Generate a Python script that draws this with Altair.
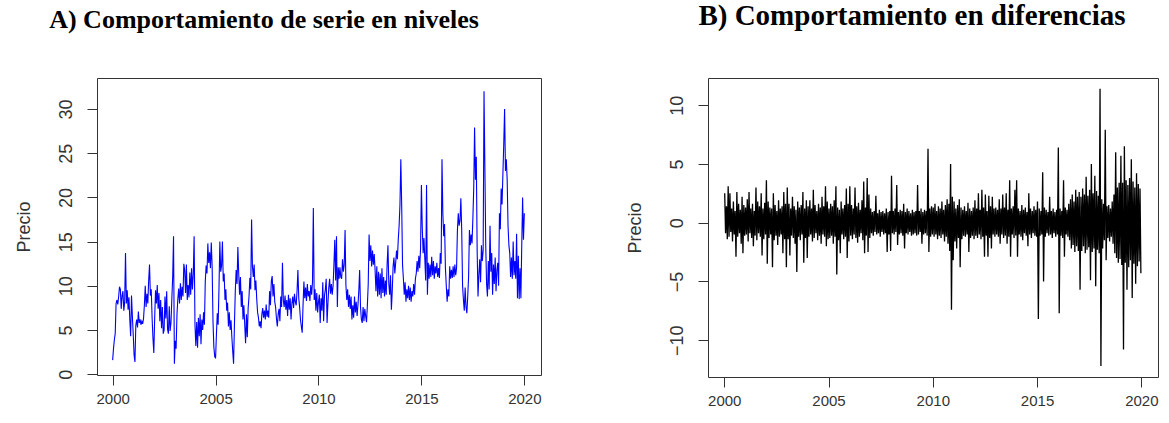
import altair as alt
import pandas as pd

# ---- Serie en niveles: precio cada quincena (24 valores por año) ----
niveles_2000_2004 = [
    1.6, 2.9, 3.9, 4.6, 8.0, 8.4, 7.9, 8.8, 9.9, 9.6, 7.4, 8.9, 9.4, 7.2, 8.1, 13.7, 8.0, 9.5, 7.3, 8.7, 6.2, 4.3, 8.9, 6.6,
    4.5, 2.2, 1.4, 5.5, 6.2, 5.3, 7.1, 5.8, 6.2, 5.6, 6.0, 5.7, 6.3, 7.8, 10.0, 7.6, 9.1, 8.0, 10.6, 12.4, 8.9, 9.6, 6.4, 4.1,
    2.4, 6.3, 9.5, 8.0, 10.1, 7.4, 9.2, 6.0, 8.4, 5.2, 7.6, 4.6, 5.0, 8.8, 6.3, 9.4, 5.1, 4.6, 7.7, 4.9, 5.8, 8.5, 11.0, 15.6,
    1.2, 3.8, 2.9, 6.8, 8.5, 9.7, 8.0, 10.3, 8.4, 9.9, 8.8, 12.5, 11.8, 9.2, 12.4, 8.4, 10.1, 8.7, 11.5, 9.0, 12.0, 9.6, 11.3, 15.6,
    5.6, 3.2, 5.9, 3.0, 6.4, 4.3, 6.8, 3.4, 6.2, 5.0, 7.0, 5.6, 10.5, 12.3, 11.4, 14.8, 12.6, 13.8, 12.0, 14.9, 12.2, 6.0, 3.1, 2.0,
]
niveles_2005_2009 = [
    1.8, 4.5, 6.9, 5.6, 9.8, 15.0, 11.6, 12.3, 15.0, 10.5, 11.4, 8.4, 9.6, 7.2, 8.1, 5.4, 7.0, 5.0, 6.1, 4.2, 2.6, 1.2, 5.6, 9.4,
    11.8, 10.2, 14.4, 11.4, 9.0, 11.0, 7.6, 9.4, 6.2, 7.8, 5.6, 3.5, 6.8, 4.2, 7.5, 8.8, 10.9, 9.6, 17.5, 12.2, 11.0, 12.4, 9.5, 10.6,
    8.5, 7.0, 6.4, 5.4, 6.0, 5.2, 6.8, 7.5, 6.4, 7.2, 6.2, 7.9, 6.5, 7.2, 6.4, 9.4, 7.8, 10.5, 11.1, 8.8, 10.2, 8.2, 7.6, 6.3,
    5.4, 6.8, 7.4, 6.0, 8.8, 7.6, 12.6, 8.4, 7.6, 8.9, 7.3, 8.4, 6.6, 9.0, 7.3, 8.6, 6.2, 8.0, 8.8, 7.5, 9.1, 8.2, 7.8, 9.4,
    11.8, 8.6, 7.6, 6.2, 5.4, 4.7, 7.8, 10.5, 8.6, 9.8, 8.3, 10.2, 8.8, 9.4, 8.3, 10.1, 9.0, 10.4, 18.8, 8.4, 9.6, 7.2, 9.2, 7.0,
]
niveles_2010_2014 = [
    8.2, 9.0, 5.8, 8.6, 7.2, 10.4, 6.0, 8.9, 9.6, 10.8, 5.8, 8.0, 9.8, 10.8, 9.1, 10.2, 9.0, 10.0, 12.4, 15.2, 10.6, 15.6, 7.6, 12.1,
    10.8, 12.1, 11.0, 10.8, 13.0, 11.6, 12.4, 16.3, 10.0, 8.4, 9.6, 7.6, 9.0, 7.4, 8.8, 6.2, 7.8, 6.4, 8.8, 7.0, 8.2, 6.6, 7.8, 9.4,
    11.8, 7.6, 6.2, 5.8, 7.6, 6.0, 7.4, 6.6, 5.9, 7.8, 10.2, 15.8, 12.8, 14.6, 12.2, 14.0, 12.4, 13.6, 11.8, 9.4, 12.2, 8.8, 11.6, 9.0,
    11.4, 8.6, 12.0, 9.2, 11.0, 8.8, 10.6, 9.0, 12.4, 14.6, 10.2, 9.0, 11.2, 7.3, 9.4, 12.2, 13.2, 11.4, 12.6, 14.0, 13.0, 15.2, 16.8, 19.2,
    24.3, 19.2, 12.4, 10.8, 9.0, 10.4, 8.2, 9.6, 8.6, 10.0, 8.4, 9.8, 8.2, 9.4, 8.8, 10.2, 9.0, 10.8, 11.4, 12.8, 11.6, 13.4, 12.0, 14.2,
]
niveles_2015_2019 = [
    21.4, 16.6, 13.7, 15.4, 13.0, 10.6, 21.4, 9.0, 12.6, 10.8, 12.4, 11.0, 13.3, 11.2, 12.8, 10.8, 12.2, 11.4, 12.6, 11.0, 12.0, 10.9, 13.7, 12.5,
    24.3, 18.2, 15.6, 17.0, 12.0, 10.0, 8.2, 9.6, 8.8, 12.2, 10.8, 11.8, 10.9, 12.2, 11.0, 12.4, 11.2, 12.0, 16.3, 18.2, 16.8, 17.4, 19.9, 16.3,
    10.0, 8.4, 7.2, 9.8, 7.6, 6.9, 8.8, 11.0, 16.3, 14.6, 15.8, 14.8, 17.6, 21.0, 27.9, 22.0, 24.6, 14.0, 8.8, 11.2, 13.0, 10.4, 14.6, 12.8,
    14.0, 32.0, 23.5, 14.6, 10.2, 8.8, 12.8, 9.6, 16.8, 11.6, 13.7, 9.0, 12.4, 10.2, 13.2, 9.4, 11.8, 12.6, 10.0, 18.2, 16.4, 21.0, 19.2, 22.6,
    26.0, 30.0, 23.0, 24.3, 22.0, 16.8, 14.6, 13.7, 11.0, 13.2, 10.8, 15.0, 11.2, 12.8, 10.8, 15.9, 8.6, 13.4, 8.5, 12.0, 8.6, 14.6, 20.0, 15.2,
]
cierre_2020 = [18.2]

# ---- Serie en diferencias: máximo y mínimo de los cambios diarios de cada mes ----
dif_max_2000_2004 = [
    2.5, 1.4, 3.1, 2.5, 1.2, 1.8, 1.0, 2.6, 1.6, 1.1, 2.2, 1.5,
    1.3, 2.0, 2.6, 1.2, 1.6, 1.0, 3.0, 1.8, 1.4, 2.5, 1.2, 1.7,
    3.6, 1.8, 1.3, 1.2, 2.5, 1.5, 1.0, 1.9, 1.2, 1.4, 2.6, 1.6,
    3.0, 1.6, 1.2, 2.2, 1.4, 1.1, 1.8, 1.3, 1.5, 2.6, 1.2, 1.9,
    1.4, 1.9, 1.2, 2.8, 1.5, 1.0, 1.6, 1.3, 2.2, 1.4, 3.1, 1.8,
]
dif_min_2000_2004 = [
    -0.9, -1.4, -1.2, -0.8, -1.6, -1.0, -2.9, -1.2, -0.9, -1.8, -2.6, -1.1,
    -1.0, -1.6, -0.9, -1.3, -2.0, -1.1, -1.5, -0.9, -1.2, -2.8, -1.4, -1.0,
    -3.5, -1.3, -1.0, -3.8, -1.5, -1.1, -1.9, -1.2, -1.0, -2.6, -1.4, -3.8,
    -1.4, -2.8, -1.1, -1.3, -1.8, -4.2, -1.2, -1.5, -1.0, -3.4, -1.3, -3.0,
    -1.2, -1.0, -1.6, -1.3, -0.9, -1.5, -1.1, -1.8, -1.0, -1.2, -2.0, -1.4,
]
dif_max_2005_2009 = [
    1.2, 1.6, 1.4, 1.9, 3.1, 1.3, 1.1, 1.8, 1.2, 1.5, 2.9, 1.6,
    3.1, 1.5, 1.2, 3.0, 1.4, 1.7, 1.1, 1.9, 3.5, 1.3, 3.8, 2.4,
    1.2, 0.9, 1.0, 2.3, 0.8, 1.1, 0.9, 1.0, 0.8, 1.2, 0.9, 1.0,
    4.0, 1.0, 1.2, 3.2, 0.9, 1.1, 1.0, 1.6, 0.9, 1.2, 1.0, 0.8,
    1.1, 0.9, 1.0, 3.2, 1.0, 1.2, 0.9, 1.1, 1.0, 6.3, 1.2, 1.4,
]
dif_min_2005_2009 = [
    -1.3, -1.1, -1.8, -1.2, -4.4, -1.5, -2.6, -1.0, -1.4, -1.2, -3.0, -1.6,
    -1.1, -1.4, -1.0, -1.3, -1.7, -1.2, -0.9, -1.5, -2.6, -1.1, -2.5, -1.3,
    -0.9, -1.1, -0.8, -1.0, -0.9, -1.2, -0.8, -1.0, -0.9, -2.5, -1.0, -2.4,
    -0.9, -1.0, -0.8, -1.9, -1.0, -0.9, -1.1, -2.2, -0.9, -1.0, -0.8, -1.1,
    -1.0, -0.9, -1.1, -1.0, -0.8, -1.8, -1.0, -0.9, -1.1, -2.5, -1.2, -1.0,
]
dif_max_2010_2014 = [
    1.3, 1.6, 1.0, 1.4, 1.2, 1.8, 1.1, 1.5, 2.0, 1.6, 5.0, 2.2,
    1.8, 1.2, 1.5, 2.0, 1.3, 1.1, 1.4, 1.0, 1.7, 1.2, 1.0, 1.3,
    1.9, 1.2, 2.5, 1.1, 2.8, 1.3, 2.4, 1.0, 2.3, 1.4, 2.2, 1.2,
    1.3, 1.1, 2.0, 1.2, 2.4, 1.3, 2.5, 1.1, 3.6, 1.2, 1.4, 2.8,
    3.6, 1.2, 1.0, 1.5, 1.1, 1.3, 0.9, 2.5, 1.2, 1.0, 1.4, 1.1,
]
dif_min_2010_2014 = [
    -1.2, -1.0, -1.4, -1.1, -1.3, -1.0, -1.6, -1.2, -1.8, -2.4, -7.4, -3.2,
    -1.6, -2.2, -1.3, -3.8, -1.4, -1.1, -1.2, -1.0, -2.5, -1.3, -1.1, -1.4,
    -1.1, -1.3, -1.0, -1.4, -1.2, -2.9, -1.1, -2.9, -1.3, -2.2, -1.0, -1.2,
    -1.0, -1.2, -1.8, -1.0, -1.3, -1.1, -1.8, -1.2, -2.9, -1.0, -1.3, -1.1,
    -2.9, -1.0, -1.2, -1.5, -0.9, -1.1, -2.0, -1.0, -1.3, -0.9, -1.1, -1.2,
]
dif_max_2015_2019 = [
    1.8, 1.2, 1.0, 4.3, 1.3, 1.1, 0.9, 2.2, 1.0, 1.2, 0.9, 1.1,
    6.4, 1.2, 1.0, 3.6, 1.3, 1.1, 1.6, 2.0, 2.4, 1.8, 2.8, 2.2,
    2.6, 2.2, 2.9, 2.4, 3.9, 2.3, 2.8, 5.0, 2.5, 4.0, 2.7, 2.3,
    11.4, 2.0, 1.6, 7.9, 1.4, 1.5, 1.2, 1.8, 2.4, 6.0, 3.0, 3.4,
    5.7, 3.4, 6.5, 3.6, 3.2, 3.8, 5.4, 3.5, 3.0, 4.2, 3.3, 2.9,
]
dif_min_2015_2019 = [
    -8.2, -1.1, -1.0, -5.0, -1.2, -0.9, -1.1, -1.0, -1.3, -0.9, -1.2, -1.0,
    -7.7, -1.1, -1.3, -2.9, -1.0, -1.2, -1.5, -2.2, -1.9, -2.5, -2.0, -2.4,
    -5.7, -2.4, -2.0, -2.6, -2.3, -2.1, -4.9, -2.5, -2.2, -5.4, -2.3, -2.6,
    -12.2, -2.2, -1.5, -3.2, -1.3, -1.6, -1.2, -1.8, -2.6, -3.0, -3.4, -3.1,
    -3.6, -10.8, -3.4, -5.7, -3.8, -3.2, -6.4, -3.5, -5.2, -3.7, -3.3, -4.3,
]

anios_ticks = [2000, 2005, 2010, 2015, 2020]
ticks_niveles = [0, 5, 10, 15, 20, 25, 30]
ticks_dif = [-10, -5, 0, 5, 10]

# ---- Tablas ----
niveles = niveles_2000_2004 + niveles_2005_2009 + niveles_2010_2014 + niveles_2015_2019 + cierre_2020
df_niv = pd.DataFrame({"t": [2000 + i / 24 for i in range(len(niveles))], "precio": niveles})

dmax = dif_max_2000_2004 + dif_max_2005_2009 + dif_max_2010_2014 + dif_max_2015_2019
dmin = dif_min_2000_2004 + dif_min_2005_2009 + dif_min_2010_2014 + dif_min_2015_2019
filas = []
for m, (alto, bajo) in enumerate(zip(dmax, dmin)):
    filas.append({"t": 2000 + (m + 0.25) / 12, "dif": alto})
    filas.append({"t": 2000 + (m + 0.75) / 12, "dif": bajo})
df_dif = pd.DataFrame(filas)

GRIS = "#333333"
FUENTE = "Liberation Sans"


def eje_x():
    return alt.Axis(values=anios_ticks, format="d", title=None, grid=False, domain=False,
                    tickSize=10, tickColor=GRIS, labelFont=FUENTE, labelFontSize=15,
                    labelColor=GRIS, labelPadding=6, labelBaseline="top", labelFlush=False)


def eje_y(valores, alto):
    return alt.Axis(values=valores, title="Precio", grid=False, domain=False,
                    tickSize=10, tickColor=GRIS, labelFont=FUENTE, labelFontSize=18,
                    labelColor=GRIS, labelAngle=270, labelAlign="center",
                    labelBaseline="alphabetic", labelPadding=16, labelFlush=False,
                    titleFont=FUENTE, titleFontSize=18, titleFontWeight="normal",
                    titleColor=GRIS, titleAngle=270, titleAlign="center",
                    titleBaseline="alphabetic", titleX=-68, titleY=alto / 2)


def titulo(texto, dx, tam):
    return alt.TitleParams(texto, font="Liberation Serif", fontSize=tam, fontWeight="bold",
                           color="black", anchor="middle", frame="group", dx=dx,
                           baseline="alphabetic", offset=24)


H_A, H_B = 297, 299

panel_a = alt.Chart(df_niv).mark_line(color="#0000FF", strokeWidth=1.1).encode(
    x=alt.X("t:Q", scale=alt.Scale(domain=[1999.24, 2020.81], nice=False, zero=False), axis=eje_x()),
    y=alt.Y("precio:Q", scale=alt.Scale(domain=[-0.08, 33.5], nice=False, zero=False),
            axis=eje_y(ticks_niveles, H_A)),
).properties(width=444, height=H_A, title=titulo("A) Comportamiento de serie en niveles", -55, 26))

panel_b = alt.Chart(df_dif).mark_line(color="#000000", strokeWidth=1.3).encode(
    x=alt.X("t:Q", scale=alt.Scale(domain=[1999.22, 2020.8], nice=False, zero=False), axis=eje_x()),
    y=alt.Y("dif:Q", scale=alt.Scale(domain=[-13.13, 12.31], nice=False, zero=False),
            axis=eje_y(ticks_dif, H_B)),
).properties(width=450, height=H_B, title=titulo("B) Comportamiento en diferencias", -21, 29))

chart = alt.hconcat(panel_a, panel_b, spacing=83).properties(
    padding={"left": 14, "top": 1, "right": 0, "bottom": 0},
    background="white",
).configure_view(stroke=GRIS, strokeWidth=1)

chart.save("out.html", embed_options={"renderer": "svg", "actions": False})
